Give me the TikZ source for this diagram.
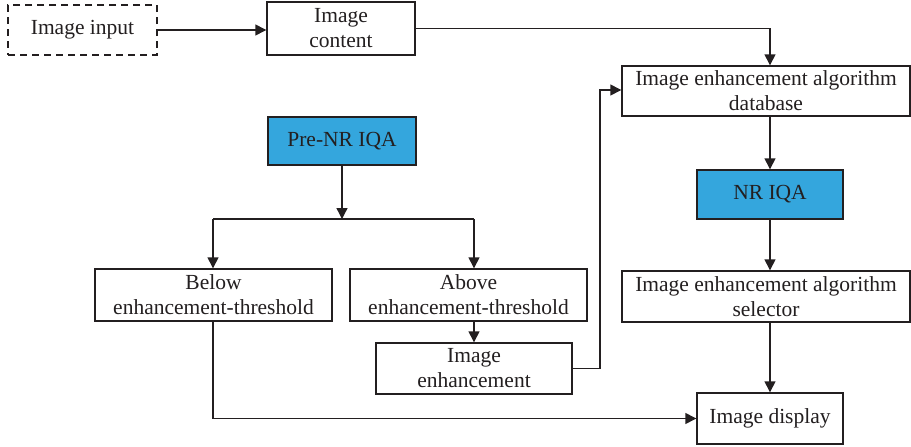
\documentclass[tikz,border=0pt]{standalone}
\usepackage{fontspec}
\setmainfont{Liberation Serif}
\usetikzlibrary{arrows.meta}
\definecolor{nrblue}{RGB}{52,166,221}
\definecolor{ink}{RGB}{35,31,32}
\tikzset{
  box/.style={draw=ink, line width=1.4pt, fill=white, inner sep=0pt, align=center, font=\fontsize{21.5}{25}\selectfont, text=ink},
  bluebox/.style={box, fill=nrblue},
  conn/.style={draw=ink, line width=1.4pt, -{Triangle[length=11pt,width=11pt]}},
  plain/.style={draw=ink, line width=1.4pt}
}
\begin{document}
\begin{tikzpicture}[x=1pt,y=-1pt]
\useasboundingbox (0,0) rectangle (911,447);
\node[box, dashed, dash pattern=on 7pt off 5pt, minimum width=149pt, minimum height=50pt] (in) at (82.5,30) {Image input};
\node[box, minimum width=148pt, minimum height=53pt] (content) at (341,28.5) {Image\\content};
\node[box, minimum width=288pt, minimum height=50pt] (db) at (766,91) {Image enhancement algorithm\\database};
\node[bluebox, minimum width=148pt, minimum height=48pt] (pre) at (342,141) {Pre-NR IQA};
\node[bluebox, minimum width=146pt, minimum height=49pt] (nr) at (770,194.5) {NR IQA};
\node[box, minimum width=288pt, minimum height=51pt] (sel) at (766,296.5) {Image enhancement algorithm\\selector};
\node[box, minimum width=237pt, minimum height=52pt] (below) at (213.5,295) {Below\\enhancement-threshold};
\node[box, minimum width=237pt, minimum height=52pt] (above) at (468.5,295) {Above\\enhancement-threshold};
\node[box, minimum width=196pt, minimum height=51pt] (enh) at (474,368.5) {Image\\enhancement};
\node[box, minimum width=146pt, minimum height=51pt] (disp) at (770,418.5) {Image display};
\coordinate (split) at (342,219);
\coordinate (splitL) at (213,219);
\coordinate (splitR) at (474,219);

\draw[conn] (in.east) -- (in.east -| content.west);
\draw[conn] (content.east) -| (db.north -| nr.north);
\draw[conn] (db.south -| nr.north) -- (nr.north);
\draw[conn] (nr.south) -- (sel.north -| nr.south);
\draw[conn] (sel.south -| disp.north) -- (disp.north);
\draw[conn] (pre.south) -- (split);
\draw[plain] (splitL) -- (splitR);
\draw[conn] (splitL) -- (splitL |- below.north);
\draw[conn] (splitR) -- (splitR |- above.north);
\draw[conn] (above.south -| enh.north) -- (enh.north);
\draw[conn] (enh.east) -- (600,368.5) |- (db.west |- 0,90);
\draw[conn] (213,321) |- (disp.west);
\end{tikzpicture}
\end{document}
